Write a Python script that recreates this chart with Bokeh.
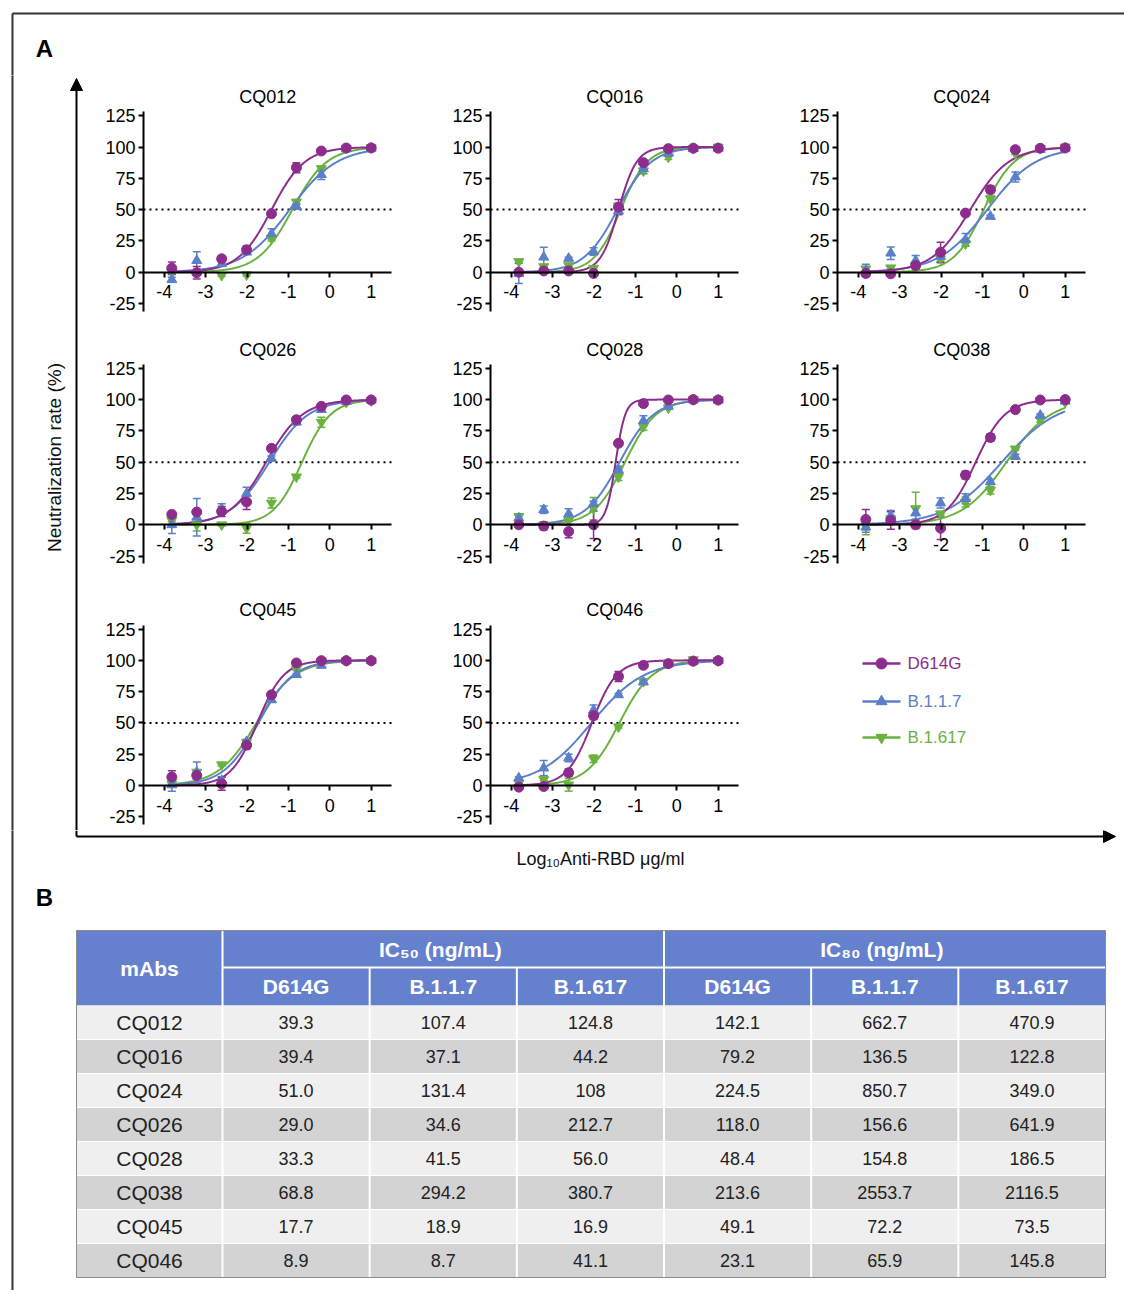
import numpy as np
from bokeh.plotting import figure
from bokeh.models import (Range1d, FixedTicker, Whisker, TeeHead, ColumnDataSource,
                          Arrow, NormalHead)
from bokeh.layouts import row, column
from bokeh.core.properties import value
from bokeh.embed import file_html
from bokeh.resources import INLINE

FONT = "Liberation Sans"

# ---------------- data ----------------
MABS = ["CQ012", "CQ016", "CQ024", "CQ026", "CQ028", "CQ038", "CQ045", "CQ046"]
VARIANTS = ["D614G", "B.1.1.7", "B.1.617"]
COLORS = ["#8C2D8E", "#5B7FC8", "#6AB23F"]
MARKERS = ["circle", "triangle", "inverted_triangle"]

LOG_CONC = [-3.816, -3.214, -2.612, -2.010, -1.408, -0.806, -0.204, 0.398, 1.0]
X_TICKS = [-4, -3, -2, -1, 0, 1]
Y_TICKS = [-25, 0, 25, 50, 75, 100, 125]

# table B (ng/mL)
IC50_D614G = ["39.3", "39.4", "51.0", "29.0", "33.3", "68.8", "17.7", "8.9"]
IC50_B117 = ["107.4", "37.1", "131.4", "34.6", "41.5", "294.2", "18.9", "8.7"]
IC50_B1617 = ["124.8", "44.2", "108", "212.7", "56.0", "380.7", "16.9", "41.1"]
IC80_D614G = ["142.1", "79.2", "224.5", "118.0", "48.4", "213.6", "49.1", "23.1"]
IC80_B117 = ["662.7", "136.5", "850.7", "156.6", "154.8", "2553.7", "72.2", "65.9"]
IC80_B1617 = ["470.9", "122.8", "349.0", "641.9", "186.5", "2116.5", "73.5", "145.8"]

# neutralization rate (%) means
NEUT_D614G = {
    "CQ012": [3.2, -0.5, 10.7, 17.9, 46.7, 83.5, 96.8, 99.2, 99.3],
    "CQ016": [0, 1, 1, -1, 52, 87.5, 98.7, 99, 99],
    "CQ024": [-1, -1.3, 5.3, 16, 47.2, 65.9, 97.9, 99, 99.2],
    "CQ026": [8.3, 10.2, 10.7, 18.2, 61.1, 83.9, 94.6, 99.7, 99.7],
    "CQ028": [0, -1, -5.4, 0, 65.1, 96.8, 99.7, 100, 99.7],
    "CQ038": [4.3, 3.5, 0, -2.7, 39.7, 69.7, 92, 99.7, 100],
    "CQ045": [6.7, 8, 1.3, 32.2, 72.4, 97.9, 99.7, 99.7, 99.7],
    "CQ046": [-1.3, -0.8, 10.2, 55.8, 87.1, 96, 97.3, 99.2, 99.7],
}
NEUT_B117 = {
    "CQ012": [-6, 9.3, 6.7, 16, 30.7, 52.5, 78, 98.5, 99],
    "CQ016": [-1, 12, 11, 16.5, 49, 82.7, 95, 98.7, 99],
    "CQ024": [1.3, 15.2, 9.3, 12.5, 25.9, 44.5, 76, 98, 99],
    "CQ026": [0, 6, 12.9, 25, 53, 82, 92, 98.5, 99.5],
    "CQ028": [5.4, 12.1, 8.8, 16.9, 43.7, 83.1, 94.6, 99.7, 99.5],
    "CQ038": [-1.9, 7.5, 9.4, 17.4, 20.9, 34.3, 54.4, 87.4, 98.7],
    "CQ045": [0.5, 10.7, 4, 34.9, 68.4, 88.5, 96, 99.7, 99.7],
    "CQ046": [5.9, 13.9, 22, 60.3, 72.4, 82.6, 97, 99.2, 99.7],
}
NEUT_B1617 = {
    "CQ012": [0, -0.5, -2.5, -2, 27, 56, 82.7, 99, 99.5],
    "CQ016": [8.5, 4.5, 5.3, 3.2, 53, 81, 92, 99, 100],
    "CQ024": [2.7, 3.5, 5, 10.7, 22.7, 58.7, 95, 99, 100],
    "CQ026": [3.5, 0, 0, -2.7, 17.4, 38.3, 82, 98, 99.2],
    "CQ028": [6.7, 0, 3.5, 12.9, 38.3, 78.6, 93.3, 100, 100],
    "CQ038": [-1, 4.8, 12.9, 8.8, 18.2, 27.6, 60.6, 83.9, 97.9],
    "CQ045": [1.3, 10.7, 16.6, 34.3, 71, 92.8, 99.2, 99.7, 99.7],
    "CQ046": [2.1, 4.8, 0.5, 21.4, 46.9, 83.1, 97.9, 100.5, 99.7],
}
# error bars (SD)
ERR_D614G = {
    "CQ012": [5, 5, 1, 3, 1.5, 4, 1, 0.5, 0.5],
    "CQ016": [1, 1, 1, 2, 6, 1, 1, 0.5, 0.5],
    "CQ024": [1, 1, 3, 8, 1, 3, 1, 0.5, 0.5],
    "CQ026": [1, 1, 4, 6, 2, 2, 1, 0.5, 0.5],
    "CQ028": [1, 3, 5, 11, 1, 1, 0.5, 0.5, 0.5],
    "CQ038": [8, 7, 3, 9, 3, 3, 1, 0.5, 0.5],
    "CQ045": [5, 3, 5, 3, 1, 1, 0.5, 0.5, 0.5],
    "CQ046": [1, 1, 3, 3, 4, 1, 1, 0.5, 0.5],
}
ERR_B117 = {
    "CQ012": [2, 7, 1, 1.5, 4, 2, 4, 0.5, 0.5],
    "CQ016": [8, 8, 1, 3, 3, 4, 1, 0.5, 0.5],
    "CQ024": [5, 5, 4, 5, 5, 1, 4, 0.5, 0.5],
    "CQ026": [7, 15, 4, 5, 2, 2, 2, 0.5, 0.5],
    "CQ028": [2, 3, 4, 2, 3, 4, 1, 0.5, 0.5],
    "CQ038": [4, 4, 5, 4, 4, 2, 2, 1, 0.5],
    "CQ045": [5, 8, 3, 2, 2, 1, 2, 0.5, 0.5],
    "CQ046": [1, 6, 3, 4, 1, 1, 1, 0.5, 0.5],
}
ERR_B1617 = {
    "CQ012": [1, 1, 1, 1, 2, 2, 2, 0.5, 0.5],
    "CQ016": [1, 1, 1, 1, 2, 2, 2, 0.5, 0.5],
    "CQ024": [1, 1, 1, 2, 2, 2, 1, 0.5, 0.5],
    "CQ026": [1, 5, 1, 4, 4, 1, 4, 0.5, 0.5],
    "CQ028": [2, 1, 1, 9, 3, 3, 1, 0.5, 0.5],
    "CQ038": [7, 1, 13, 1, 4, 3, 1, 2, 0.5],
    "CQ045": [1, 1, 1, 1, 1, 1, 0.5, 0.5, 0.5],
    "CQ046": [1, 1, 5, 3, 1, 1, 1, 0.5, 0.5],
}

NEUT = [NEUT_D614G, NEUT_B117, NEUT_B1617]
ERR = [ERR_D614G, ERR_B117, ERR_B1617]
IC50 = [IC50_D614G, IC50_B117, IC50_B1617]
IC80 = [IC80_D614G, IC80_B117, IC80_B1617]

# ---------------- layout constants (page px, origin at top-left of page) ----------------
COL_LEFT = [95, 442, 789]
COL_W = [347, 347, 335]
TOTAL_W = COL_LEFT[2] + COL_W[2]
AXIS_X = [143, 490, 837]
ROW_TOP = [75, 330, 590]
ROW_H = [255, 260, 240]
ZERO_Y = [271.7, 524.3, 785.0]
PAGE_BOTTOM = 1290
PX_X = 41.4
PX_Y = 1.252
X_LO, X_HI = -4.5, 1.5
FRAME_C = "#333333"


def base_fig(w, h, xr, yr):
    p = figure(width=w, height=h, x_range=xr, y_range=yr, output_backend="svg",
               toolbar_location=None, min_border=0, x_axis_location=None,
               y_axis_location=None)
    p.outline_line_color = None
    p.grid.visible = False
    p.background_fill_color = "white"
    p.border_fill_color = "white"
    return p


def panel(k, r, c):
    xs = X_LO - (AXIS_X[c] - COL_LEFT[c]) / PX_X
    xe = xs + COL_W[c] / PX_X
    ye = (ZERO_Y[r] - ROW_TOP[r]) / PX_Y
    ys = ye - ROW_H[r] / PX_Y
    p = figure(width=COL_W[c], height=ROW_H[r], x_range=Range1d(xs, xe),
               y_range=Range1d(ys, ye), output_backend="svg", toolbar_location=None,
               min_border=0)
    p.outline_line_color = None
    p.grid.visible = False
    for ax in (p.xaxis[0], p.yaxis[0]):
        ax.axis_line_width = 2
        ax.axis_line_color = "black"
        ax.major_tick_line_width = 2
        ax.major_tick_line_color = "black"
        ax.major_tick_in = 0
        ax.major_tick_out = 5
        ax.minor_tick_line_color = None
        ax.major_label_text_font = FONT
        ax.major_label_text_font_size = "18px"
        ax.major_label_text_color = "black"
    p.xaxis.fixed_location = 0
    p.yaxis.fixed_location = X_LO
    p.xaxis.bounds = (X_LO, X_HI)
    p.yaxis.bounds = (-31, 128)
    p.xaxis.ticker = FixedTicker(ticks=X_TICKS)
    p.yaxis.ticker = FixedTicker(ticks=Y_TICKS)
    p.xaxis.major_label_overrides = {float(t): str(t) for t in X_TICKS}
    p.yaxis.major_label_overrides = {float(t): str(t) for t in Y_TICKS}
    p.xaxis.major_label_standoff = 8
    p.yaxis.major_label_standoff = 3

    name = MABS[k]
    p.text(x=[(X_LO + X_HI) / 2], y=[140], text=[name], text_font=value(FONT),
           text_font_size="18px", text_align="center", text_baseline="middle",
           text_color="black")
    p.line(x=[X_LO, X_HI + 0.05], y=[50, 50], line_color="black", line_width=2,
           line_dash="2 4")

    xc = np.linspace(LOG_CONC[0], LOG_CONC[-1], 300)
    order = [2, 1, 0]
    for i in order:
        ic50 = float(IC50[i][k]) / 1000.0
        ic80 = float(IC80[i][k]) / 1000.0
        hill = np.log10(4.0) / np.log10(ic80 / ic50)
        yc = 100.0 / (1.0 + 10 ** ((np.log10(ic50) - xc) * hill))
        p.line(xc, yc, line_color=COLORS[i], line_width=2)
    for i in order:
        yv = np.array(NEUT[i][name])
        ev = np.array(ERR[i][name])
        src = ColumnDataSource(dict(x=LOG_CONC, y=yv, lo=yv - ev, hi=yv + ev))
        w = Whisker(source=src, base="x", lower="lo", upper="hi",
                    line_color=COLORS[i], line_width=1.5,
                    upper_head=TeeHead(size=8, line_color=COLORS[i], line_width=1.5),
                    lower_head=TeeHead(size=8, line_color=COLORS[i], line_width=1.5))
        p.add_layout(w)
        p.scatter("x", "y", source=src, marker=MARKERS[i], size=10,
                  fill_color=COLORS[i], line_color=COLORS[i])
    return p


def legend_fig():
    w, h = COL_W[2], ROW_H[2]
    ox, oy = COL_LEFT[2], ROW_TOP[2]
    p = base_fig(w, h, Range1d(0, w), Range1d(h, 0))
    centers = [663, 701, 737]
    for i, v in enumerate(VARIANTS):
        cy = centers[i] - oy
        p.line(x=[862 - ox, 900 - ox], y=[cy, cy], line_color=COLORS[i], line_width=2.5)
        p.scatter(x=[881 - ox], y=[cy], marker=MARKERS[i], size=11,
                  fill_color=COLORS[i], line_color=COLORS[i])
        p.text(x=[907 - ox], y=[cy], text=[v], text_font=value(FONT),
               text_font_size="17px", text_align="left", text_baseline="middle",
               text_color=COLORS[i])
    return p


# ---------------- header ----------------
HEAD_H = ROW_TOP[0]
head = base_fig(TOTAL_W, HEAD_H, Range1d(0, TOTAL_W), Range1d(HEAD_H, 0))
head.line(x=[12, TOTAL_W], y=[13, 13], line_color=FRAME_C, line_width=2)
head.line(x=[12, 12], y=[13, HEAD_H + 1], line_color=FRAME_C, line_width=2)
head.text(x=[44], y=[48], text=["A"], text_font=value(FONT), text_font_size="24px",
          text_font_style="bold", text_align="center", text_baseline="middle",
          text_color="black")

# ---------------- left strip ----------------
LEFT_W = COL_LEFT[0]
MID_H = sum(ROW_H)
left = base_fig(LEFT_W, MID_H, Range1d(0, LEFT_W), Range1d(MID_H, 0))
left.line(x=[12, 12], y=[-1, MID_H + 1], line_color=FRAME_C, line_width=2)
left.add_layout(Arrow(end=NormalHead(size=12, fill_color="black", line_color="black"),
                      x_start=76, y_start=MID_H, x_end=76, y_end=78 - ROW_TOP[0],
                      line_color="black", line_width=2))
left.text(x=[54], y=[457 - ROW_TOP[0]], text=["Neutralization rate (%)"],
          text_font=value(FONT), text_font_size="19px", text_align="center",
          text_baseline="middle", angle=np.pi / 2, text_color="#111111")

# ---------------- panels ----------------
rows = []
k = 0
for r in range(3):
    figs = []
    for c in range(3):
        if k < len(MABS):
            figs.append(panel(k, r, c))
            k += 1
        else:
            figs.append(legend_fig())
    rows.append(row(*figs))
grid = column(*rows)

# ---------------- bottom: x label + table ----------------
BOT_TOP = ROW_TOP[2] + ROW_H[2]
BOT_H = PAGE_BOTTOM - BOT_TOP
bot = base_fig(TOTAL_W, BOT_H, Range1d(0, TOTAL_W), Range1d(BOT_H, 0))
bot.line(x=[12, 12], y=[-1, BOT_H], line_color=FRAME_C, line_width=2)
ay = 836 - BOT_TOP
bot.line(x=[76, 76], y=[0, ay], line_color="black", line_width=2)
bot.add_layout(Arrow(end=NormalHead(size=12, fill_color="black", line_color="black"),
                     x_start=76, y_start=ay, x_end=1115, y_end=ay,
                     line_color="black", line_width=2))
bot.text(x=[600], y=[858 - BOT_TOP], text=["Log\u2081\u2080Anti-RBD \u03bcg/ml"],
         text_font=value(FONT), text_font_size="18px", text_align="center",
         text_baseline="middle", text_color="#111111")
bot.text(x=[44], y=[897 - BOT_TOP], text=["B"], text_font=value(FONT),
         text_font_size="24px", text_font_style="bold", text_align="center",
         text_baseline="middle", text_color="black")

# table geometry (local coords)
oy = BOT_TOP
col_edges = [76, 222] + [222 + (1105 - 222) / 6.0 * j for j in range(1, 7)]
h_top, h_mid, h_bot = 930 - oy, 967 - oy, 1005 - oy
row_h = (1277 - 1005) / 8.0
HEAD_BG = "#6580CD"
bot.quad(left=[col_edges[0]], right=[col_edges[-1]], top=[h_top], bottom=[h_bot],
         fill_color=HEAD_BG, line_color=None)
n = len(MABS)
tops = [h_bot + row_h * i for i in range(n)]
bots = [h_bot + row_h * (i + 1) for i in range(n)]
fills = ["#EFEFEF" if i % 2 == 0 else "#D3D3D3" for i in range(n)]
bot.quad(left=[col_edges[0]] * n, right=[col_edges[-1]] * n, top=tops, bottom=bots,
         fill_color=fills, line_color=None)
# white separators
for j in range(1, 7):
    y0 = h_top if j in (1, 4) else h_mid
    bot.line(x=[col_edges[j]] * 2, y=[y0, bots[-1]], line_color="white", line_width=2)
bot.line(x=[col_edges[1], col_edges[-1]], y=[h_mid, h_mid], line_color="white", line_width=2)
for i in range(n - 1):
    bot.line(x=[col_edges[0], col_edges[-1]], y=[bots[i], bots[i]], line_color="white",
             line_width=1)
bot.quad(left=[col_edges[0]], right=[col_edges[-1]], top=[h_top], bottom=[bots[-1]],
         fill_color=None, line_color="#8C8C8C", line_width=1)

centers = [(col_edges[j] + col_edges[j + 1]) / 2 for j in range(7)]
hdr = dict(text_font=value(FONT), text_font_size="21px", text_font_style="bold",
           text_align="center", text_baseline="middle", text_color="white")
bot.text(x=[centers[0]], y=[(h_top + h_bot) / 2], text=["mAbs"], **hdr)
bot.text(x=[(col_edges[1] + col_edges[4]) / 2, (col_edges[4] + col_edges[7]) / 2],
         y=[(h_top + h_mid) / 2] * 2,
         text=["IC\u2085\u2080  (ng/mL)", "IC\u2088\u2080  (ng/mL)"], **hdr)
bot.text(x=centers[1:], y=[(h_mid + h_bot) / 2] * 6, text=VARIANTS + VARIANTS, **hdr)

cell = dict(text_font=value(FONT), text_align="center", text_baseline="middle",
            text_color="#222222")
mids = [(tops[i] + bots[i]) / 2 for i in range(n)]
bot.text(x=[centers[0]] * n, y=mids, text=MABS, text_font_size="21px", **cell)
table_cols = IC50 + IC80
for j, colvals in enumerate(table_cols):
    bot.text(x=[centers[j + 1]] * n, y=mids, text=colvals, text_font_size="18px", **cell)

layout = column(head, row(left, grid), bot)
open("out.html", "w").write(file_html(layout, INLINE))
